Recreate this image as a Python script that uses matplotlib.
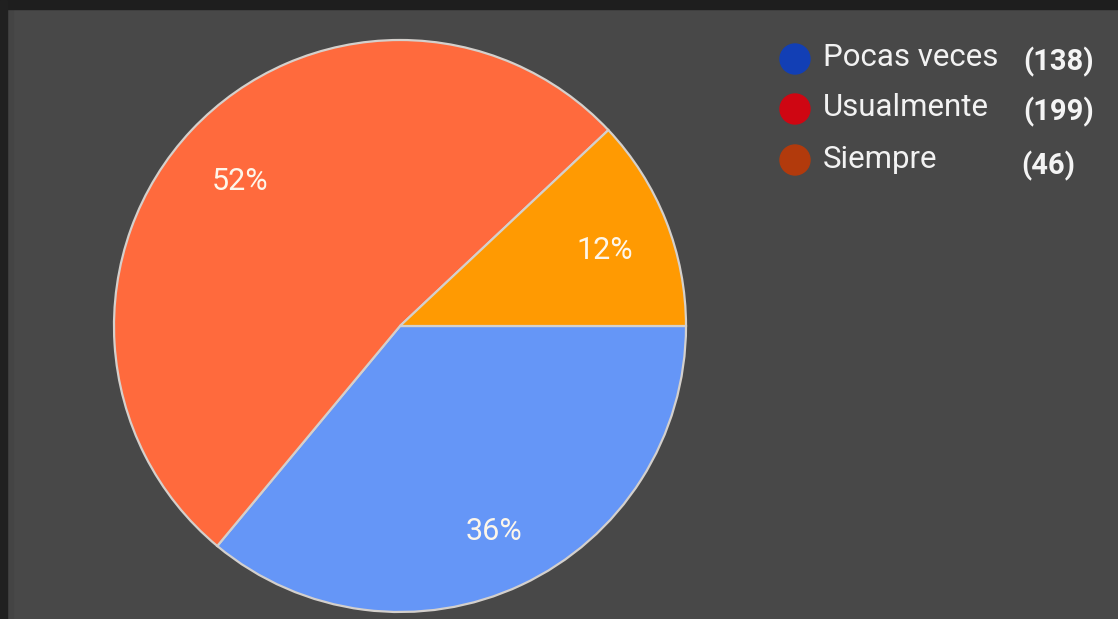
import matplotlib
matplotlib.use("Agg")
import matplotlib.pyplot as plt
from matplotlib.patches import Rectangle, Circle

# Survey answers
categories = ["Pocas veces", "Usualmente", "Siempre"]
counts = [138, 199, 46]
slice_colors = ["#6596f7", "#ff6a3d", "#ff9a02"]
legend_colors = ["#123fb5", "#cf0612", "#b23a0c"]

W, H = 1118, 619
fig = plt.figure(figsize=(W / 100, H / 100), dpi=100)
fig.patch.set_facecolor("#484848")
ax = fig.add_axes([0, 0, 1, 1])

# window frame: dark top bar and left strip
ax.add_patch(Rectangle((0, H - 9), W, 9, color="#1e1e1e", zorder=5))
ax.add_patch(Rectangle((0, 0), 7, H, color="#202020", zorder=5))
ax.add_patch(Rectangle((7, 0), 6, H - 9, color="#444444", zorder=4))

wedges, texts, autotexts = ax.pie(
    counts,
    colors=slice_colors,
    startangle=0,
    counterclock=False,
    center=(400, H - 326),
    radius=286,
    autopct=lambda p: f"{round(p)}%",
    pctdistance=0.77,
    wedgeprops=dict(edgecolor="#d4d0cc", linewidth=1.6),
    textprops=dict(color="#fdf6ea", fontsize=22, family="Roboto"),
    frame=True,
)
for t in autotexts:
    x, y = t.get_position()
    t.set_position((x, y - 6))

ax.set_xlim(0, W)
ax.set_ylim(0, H)
ax.set_aspect("equal")
ax.axis("off")

# legend entries with counts
row_y = [58, 108, 159]
count_y = [62, 112, 166]
for name, n, col, y, cy in zip(categories, counts, legend_colors, row_y, count_y):
    ax.add_patch(Circle((795, H - y - 1), 15, color=col, zorder=6))
    ax.text(823, H - y, name, color="#f2f2f2", fontsize=22.5,
            family="Roboto", va="center", ha="left", zorder=6)
    cx = 1023 if n >= 100 else 1021
    ax.text(cx, H - cy, f"({n})", color="#f4f4f4", fontsize=21,
            family="Roboto", fontweight="bold", va="center", ha="left", zorder=6)

fig.savefig("out.png", dpi=100, facecolor=fig.get_facecolor())
